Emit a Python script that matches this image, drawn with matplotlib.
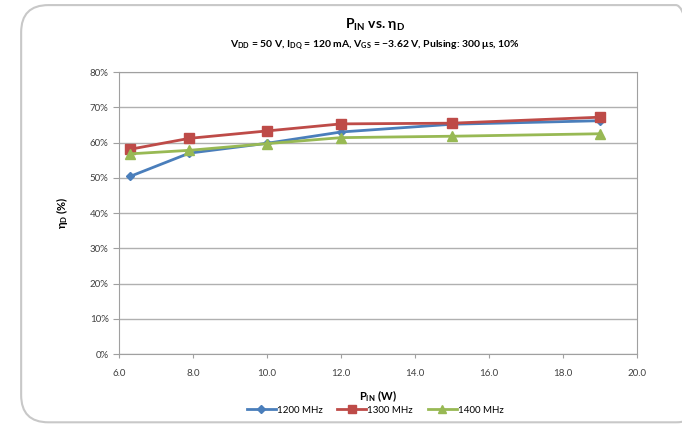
import matplotlib
matplotlib.use("Agg")
import matplotlib.pyplot as plt
from matplotlib.patches import FancyBboxPatch
from matplotlib.ticker import FuncFormatter

plt.rcParams['font.family'] = ['Lato', 'DejaVu Sans']
plt.rcParams['mathtext.default'] = 'regular'

pin = [6.3, 7.9, 10.0, 12.0, 15.0, 19.0]
eff_1200 = [50.4, 57.0, 59.8, 63.0, 65.2, 66.2]
eff_1300 = [58.1, 61.2, 63.3, 65.3, 65.5, 67.2]
eff_1400 = [56.8, 57.8, 59.7, 61.4, 61.8, 62.5]
labels = ['1200 MHz', '1300 MHz', '1400 MHz']

fig = plt.figure(figsize=(6.82, 4.24), dpi=100)

# rounded chart frame
frame = FancyBboxPatch((0.031, 0.004), 1.0, 0.984, boxstyle="round,pad=0,rounding_size=0.04",
                       transform=fig.transFigure, facecolor='none', edgecolor='#c8c8c8',
                       linewidth=1.5, mutation_aspect=682/424, zorder=-1)
fig.patches.append(frame)

ax = fig.add_axes([0.1745, 0.165, 0.7595, 0.665])
ax.plot(pin, eff_1200, color='#4a7ebb', marker='D', markersize=4.5, linewidth=2, label=labels[0])
ax.plot(pin, eff_1300, color='#be4b48', marker='s', markersize=6.5, linewidth=2, label=labels[1])
ax.plot(pin, eff_1400, color='#98b954', marker='^', markersize=6.5, linewidth=2, label=labels[2])

ax.set_xlim(6, 20)
ax.set_ylim(0, 80)
ax.set_xticks([6, 8, 10, 12, 14, 16, 18, 20])
ax.set_yticks(range(0, 81, 10))
ax.xaxis.set_major_formatter(FuncFormatter(lambda v, p: '%.1f' % v))
ax.yaxis.set_major_formatter(FuncFormatter(lambda v, p: '%d%%' % v))
ax.grid(axis='y', color='#b0b0b0', linewidth=1)
ax.set_axisbelow(True)
for s in ax.spines.values():
    s.set_color('#a0a0a0')
ax.tick_params(axis='both', labelsize=7, colors='#404040', length=3, color='#a0a0a0')
ax.tick_params(axis='x', pad=8)
ax.tick_params(axis='y', length=4)

fig.text(0.55, 0.932, r'P$_{IN}$ vs. η$_{D}$', ha='center', fontsize=10, fontweight='bold')
fig.text(0.55, 0.888, r'V$_{DD}$ = 50 V, I$_{DQ}$ = 120 mA, V$_{GS}$ = −3.62 V, Pulsing: 300 μs, 10%',
         ha='center', fontsize=7.5, fontweight='bold')
ax.set_xlabel(r'P$_{IN}$ (W)', fontsize=8, fontweight='bold', labelpad=7)
ax.set_ylabel(r'η$_{D}$ (%)', fontsize=8, fontweight='bold', labelpad=14)

fig.legend(loc='center', bbox_to_anchor=(0.55, 0.033), ncol=3, frameon=False, fontsize=7,
           handlelength=3, columnspacing=1.5, handletextpad=0.1, markerscale=0.8)

fig.savefig('out.png', dpi=100)
